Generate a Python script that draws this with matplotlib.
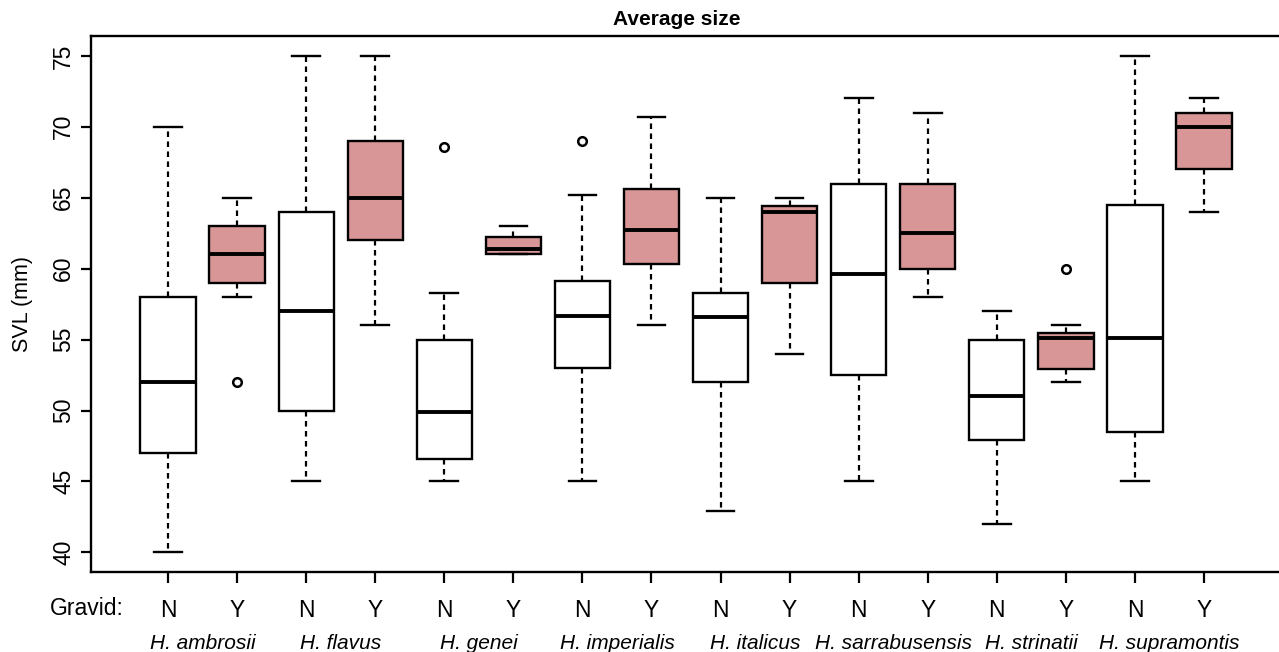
import matplotlib
matplotlib.use("Agg")
import matplotlib.pyplot as plt
from matplotlib.transforms import blended_transform_factory

plt.rcParams['font.family'] = ['Liberation Sans', 'DejaVu Sans']

# ---- data ----
species = ["H. ambrosii", "H. flavus", "H. genei", "H. imperialis",
           "H. italicus", "H. sarrabusensis", "H. strinatii", "H. supramontis"]
gravid = ["N", "Y"] * 8

whislo = [40, 58, 45, 56, 45, 61.0, 45, 56, 42.9, 54, 45, 58, 42, 52, 45, 64]
q1     = [47, 59, 50, 62, 46.6, 61.05, 53, 60.3, 52, 59, 52.5, 60, 47.9, 52.9, 48.5, 67]
med    = [52, 61, 57, 65, 49.9, 61.4, 56.7, 62.7, 56.6, 64, 59.6, 62.5, 51, 55.1, 55.1, 70]
q3     = [58, 63, 64, 69, 55, 62.25, 59.1, 65.6, 58.3, 64.4, 66, 66, 55, 55.5, 64.5, 71]
whishi = [70, 65, 75, 75, 58.3, 63, 65.2, 70.7, 65, 65, 72, 71, 57, 56, 75, 72]
fliers = [[], [52], [], [], [68.6], [], [69], [], [], [], [], [], [], [60], [], []]

ylim_lo, ylim_hi = 38.6, 76.4

# ---- figure ----
W, H = 1279, 652
fig = plt.figure(figsize=(W / 100, H / 100), dpi=100)
ax_left, ax_right, ax_top, ax_bot = 91, 1283, 36, 572.3
ax = fig.add_axes([ax_left / W, (H - ax_bot) / H, (ax_right - ax_left) / W, (ax_bot - ax_top) / H])

pos = list(range(1, len(med) + 1))
stats = []
for i in range(len(med)):
    stats.append(dict(whislo=whislo[i], q1=q1[i], med=med[i], q3=q3[i],
                      whishi=whishi[i], fliers=fliers[i]))

bp = ax.bxp(stats, positions=pos, widths=0.8, capwidths=0.4, patch_artist=True,
            boxprops=dict(edgecolor='black', linewidth=1.7),
            medianprops=dict(color='black', linewidth=2.8, solid_capstyle='butt'),
            whiskerprops=dict(color='black', linewidth=1.6, linestyle=(0, (2.5, 2.0))),
            capprops=dict(color='black', linewidth=1.7),
            flierprops=dict(marker='o', markerfacecolor='none', markeredgecolor='black',
                            markersize=6.2, markeredgewidth=1.8, linestyle='none'))
fill = {"N": "white", "Y": "#D99696"}
for patch, g in zip(bp['boxes'], gravid):
    patch.set_facecolor(fill[g])

# x limits so that position 1 lands at pixel 168 with 69.07 px spacing
step = 69.07
x_lo = 1 - (168 - ax_left) / step
x_hi = x_lo + (ax_right - ax_left) / step
ax.set_xlim(x_lo, x_hi)
ax.set_ylim(ylim_lo, ylim_hi)

ax.spines['right'].set_visible(False)
for s in ['left', 'top', 'bottom']:
    ax.spines[s].set_linewidth(1.7)

ax.set_xticks(pos)
ax.set_xticklabels(gravid, fontsize=16.5)
ax.set_yticks([40, 45, 50, 55, 60, 65, 70, 75])
ax.set_yticklabels(["40", "45", "50", "55", "60", "65", "70", "75"], fontsize=16.5, rotation=90,
                   va='center')
ax.tick_params(axis='x', length=8, width=1.6, pad=11)
ax.tick_params(axis='y', length=7.5, width=1.6, pad=4)

ax.set_ylabel("SVL (mm)", fontsize=15.5)
ax.yaxis.set_label_coords((33 - ax_left) / (ax_right - ax_left), 0.5)

# species labels centred under each N/Y pair
tr = blended_transform_factory(ax.transData, fig.transFigure)
for k, sp in enumerate(species):
    ax.text(pos[2 * k] + 0.5, (H - 649) / H, sp, transform=tr, ha='center', va='baseline',
            fontsize=15, fontstyle='italic')

fig.text(50 / W, (H - 615) / H, "Gravid:", ha='left', va='baseline', fontsize=16.5)
fig.text(676.7 / W, (H - 25) / H, "Average size", ha='center', va='baseline',
         fontsize=15, fontweight='bold')

fig.savefig("out.png", dpi=100)
